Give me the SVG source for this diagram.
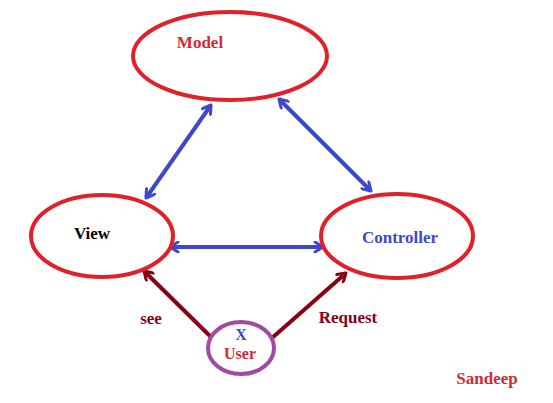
<svg xmlns="http://www.w3.org/2000/svg" width="553" height="403" viewBox="0 0 553 403">
<defs>
<marker id="hb" viewBox="0 0 12 12" refX="10" refY="6" markerWidth="12" markerHeight="12" markerUnits="userSpaceOnUse" orient="auto-start-reverse">
<path d="M2,1 L10,6 L2,11" fill="none" stroke="#3f48cc" stroke-width="3" stroke-linecap="round" stroke-linejoin="round"/>
</marker>
<marker id="hr" viewBox="0 0 12 12" refX="10" refY="6" markerWidth="12" markerHeight="12" markerUnits="userSpaceOnUse" orient="auto">
<path d="M2,1 L10,6 L2,11" fill="none" stroke="#880015" stroke-width="3" stroke-linecap="round" stroke-linejoin="round"/>
</marker>
</defs>
<style>
.node{fill:#fff;stroke:#e0202a;stroke-width:4}
.t{font-family:"Liberation Serif",serif;font-weight:bold;font-size:17px;text-anchor:middle}
.s{font-size:16px}
.b{stroke:#3f48cc;stroke-width:4;fill:none;marker-start:url(#hb);marker-end:url(#hb)}
.r{stroke:#880015;stroke-width:4;fill:none;marker-end:url(#hr)}
</style>
<rect width="553" height="403" fill="#fff"/>
<g id="connectors">
<line class="b" x1="211" y1="105" x2="146" y2="198"/>
<line class="b" x1="279" y1="99" x2="371" y2="191"/>
<line class="b" x1="170" y1="247" x2="323" y2="247"/>
<line class="r" x1="212" y1="338" x2="144" y2="271"/>
<line class="r" x1="272" y1="338" x2="346" y2="273"/>
</g>
<g id="model">
<ellipse class="node" cx="230" cy="56" rx="97" ry="44"/>
<text class="t" x="200" y="48" fill="#d42a34">Model</text>
</g>
<g id="view">
<ellipse class="node" cx="102" cy="236" rx="71" ry="41"/>
<text class="t" x="92" y="239" fill="#000">View</text>
</g>
<g id="controller">
<ellipse class="node" cx="397" cy="236" rx="76" ry="42"/>
<text class="t" x="400" y="243" fill="#3f48cc">Controller</text>
</g>
<g id="user">
<ellipse cx="241" cy="348" rx="33" ry="26" fill="#fff" stroke="#a349a4" stroke-width="4"/>
<text class="t s" x="241" y="340" fill="#3f48cc">X</text>
<text class="t s" x="240" y="359" fill="#d42a34">User</text>
</g>
<text class="t" x="151" y="324" fill="#880015">see</text>
<text class="t" x="348" y="323" fill="#880015">Request</text>
<text class="t" x="487" y="384" fill="#d42a34">Sandeep</text>
</svg>
